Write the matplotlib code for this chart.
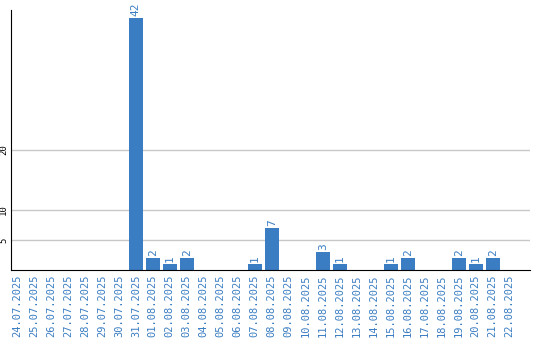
import matplotlib
matplotlib.use("Agg")
import matplotlib.pyplot as plt

dates = ["24.07.2025", "25.07.2025", "26.07.2025", "27.07.2025", "28.07.2025",
         "29.07.2025", "30.07.2025", "31.07.2025", "01.08.2025", "02.08.2025",
         "03.08.2025", "04.08.2025", "05.08.2025", "06.08.2025", "07.08.2025",
         "08.08.2025", "09.08.2025", "10.08.2025", "11.08.2025", "12.08.2025",
         "13.08.2025", "14.08.2025", "15.08.2025", "16.08.2025", "17.08.2025",
         "18.08.2025", "19.08.2025", "20.08.2025", "21.08.2025", "22.08.2025"]
counts = [0, 0, 0, 0, 0, 0, 0, 42, 2, 1, 2, 0, 0, 0, 1, 7, 0, 0, 3, 1,
          0, 0, 1, 2, 0, 0, 2, 1, 2, 0]
y_ticks = [5, 10, 20]

blue = "#3a7dc2"

fig = plt.figure(figsize=(5.4, 3.4), dpi=100)
ax = fig.add_axes([11 / 540, 70 / 340, 519 / 540, 260 / 340])

x = list(range(len(dates)))
ax.bar(x, counts, width=0.82, color=blue, zorder=3)

# подписи значений над столбцами
for xi, v in zip(x, counts):
    if v > 0:
        ax.text(xi, v + 0.3, str(v), rotation=90, ha="center", va="bottom",
                color=blue, fontsize=8, family="DejaVu Sans Mono")

ax.set_xlim(-0.35, 30.2)
ax.set_ylim(0, 43.3)
ax.set_yticks(y_ticks)
ax.set_yticklabels([str(t) for t in y_ticks], rotation=90, va="center",
                   fontsize=6.5, family="DejaVu Sans Mono")
ax.set_xticks(x)
ax.set_xticklabels(dates, rotation=90, color=blue, fontsize=7.5,
                   family="DejaVu Sans Mono")
ax.tick_params(axis="both", length=0, pad=3)
ax.tick_params(axis="y", pad=2)

ax.grid(axis="y", color="#c8c8c8", linewidth=1, zorder=0)
for s in ["top", "right"]:
    ax.spines[s].set_visible(False)
ax.spines["left"].set_color("black")
ax.spines["bottom"].set_color("black")
ax.spines["bottom"].set_zorder(4)

fig.savefig("out.png", dpi=100)
